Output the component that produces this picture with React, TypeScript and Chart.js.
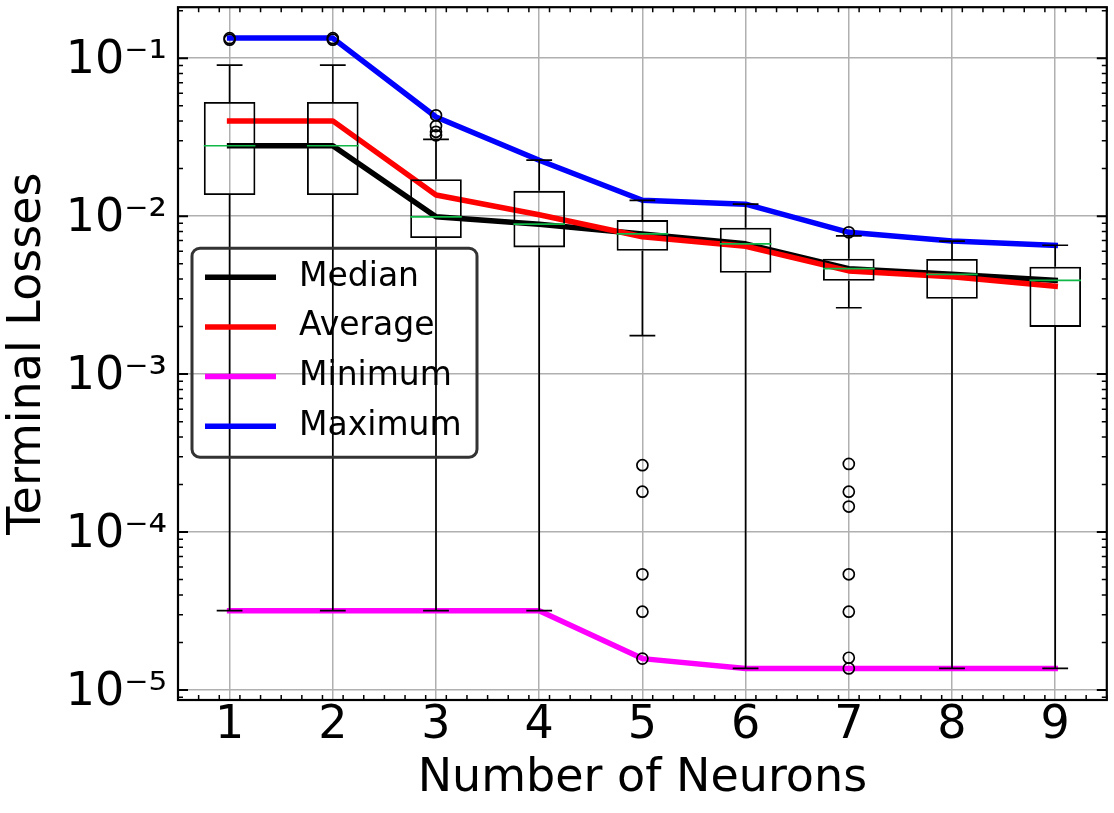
import React, { useEffect, useRef } from "react";
import { Chart, registerables } from "chart.js";

Chart.register(...registerables);

// ---------------- data ----------------
const neurons = [1, 2, 3, 4, 5, 6, 7, 8, 9];

const medianLoss = [0.0279, 0.0279, 0.0099, 0.0089, 0.00772, 0.00668, 0.00465, 0.00428, 0.00392];
const averageLoss = [0.0401, 0.0401, 0.0136, 0.0102, 0.0074, 0.00645, 0.0045, 0.00413, 0.0036];
const minimumLoss = [3.18e-5, 3.18e-5, 3.18e-5, 3.18e-5, 1.58e-5, 1.37e-5, 1.37e-5, 1.37e-5, 1.37e-5];
const maximumLoss = [0.134, 0.134, 0.0424, 0.0226, 0.0126, 0.0119, 0.0079, 0.00695, 0.00654];

const boxQ1 = [0.0136, 0.0136, 0.00726, 0.00634, 0.00603, 0.00438, 0.0039, 0.003, 0.00199];
const boxQ3 = [0.0528, 0.0528, 0.01714, 0.01446, 0.00944, 0.00844, 0.00537, 0.00535, 0.00478];
const whiskerLow = [3.18e-5, 3.18e-5, 3.18e-5, 3.18e-5, 0.00175, 1.37e-5, 0.00263, 1.37e-5, 1.37e-5];
const whiskerHigh = [0.0903, 0.0903, 0.0306, 0.0226, 0.0126, 0.0119, 0.0075, 0.00695, 0.00654];

const fliersBox1 = [0.134, 0.131];
const fliersBox2 = [0.134, 0.131];
const fliersBox3 = [0.0435, 0.0372, 0.0342, 0.0325];
const fliersBox5 = [2.65e-4, 1.8e-4, 5.4e-5, 3.13e-5, 1.58e-5];
const fliersBox7 = [0.0079, 2.7e-4, 1.8e-4, 1.45e-4, 5.4e-5, 3.13e-5, 1.6e-5, 1.37e-5];
const fliersByBox = [fliersBox1, fliersBox2, fliersBox3, [], fliersBox5, [], fliersBox7, [], []];

const yTickValues = [1e-5, 1e-4, 1e-3, 1e-2, 1e-1];
const yTickLabels = ["10\u207B\u2075", "10\u207B\u2074", "10\u207B\u00B3", "10\u207B\u00B2", "10\u207B\u00B9"];
const xTickValues = [1, 2, 3, 4, 5, 6, 7, 8, 9];
const xTickLabels = ["1", "2", "3", "4", "5", "6", "7", "8", "9"];

const seriesLabels = ["Median", "Average", "Minimum", "Maximum"];
const seriesColors = ["#000000", "#ff0000", "#ff00ff", "#0000ff"];

// ---------------- layout / style constants ----------------
const FONT = '"DejaVu Sans", "Liberation Sans", sans-serif';
const Y_MIN = 8.643e-6;
const Y_MAX = 0.2103;
const X_MIN = 0.5;
const X_MAX = 9.5;
const BOX_HALF = 0.25;
const CAP_HALF = 0.125;
const MEDIAN_GREEN = "#10b848";

const decorPlugin = {
  id: "decor",
  afterDraw(chart: any) {
    const { ctx, chartArea, scales } = chart;
    const { left, right, top, bottom } = chartArea;
    const x = scales.x;
    const y = scales.y;
    ctx.save();
    ctx.strokeStyle = "#000";

    const yTick = (v: number, len: number, w: number) => {
      const py = y.getPixelForValue(v);
      if (py < top - 0.5 || py > bottom + 0.5) return;
      ctx.lineWidth = w;
      ctx.beginPath();
      ctx.moveTo(left, py);
      ctx.lineTo(left + len, py);
      ctx.moveTo(right, py);
      ctx.lineTo(right - len, py);
      ctx.stroke();
    };
    const xTick = (v: number, len: number, w: number) => {
      const px = x.getPixelForValue(v);
      if (px < left - 0.5 || px > right + 0.5) return;
      ctx.lineWidth = w;
      ctx.beginPath();
      ctx.moveTo(px, bottom);
      ctx.lineTo(px, bottom - len);
      ctx.moveTo(px, top);
      ctx.lineTo(px, top + len);
      ctx.stroke();
    };

    for (let e = -6; e <= 0; e++) {
      for (let k = 1; k <= 9; k++) {
        const v = k * Math.pow(10, e);
        if (k === 1) yTick(v, 10, 2);
        else yTick(v, 5, 1.5);
      }
    }
    for (let i = 0; i <= 50; i++) {
      const v = Math.round((X_MIN + i * 0.2) * 10) / 10;
      if (v > X_MAX) break;
      if (Math.abs(v - Math.round(v)) < 1e-6) xTick(v, 10, 2);
      else xTick(v, 5, 1.5);
    }

    // frame
    ctx.lineWidth = 2.2;
    ctx.strokeRect(left, top, right - left, bottom - top);

    // legend
    const lx = left + 14;
    const ly = top + 241;
    const lw = 285;
    const lh = 209;
    const r = 8;
    ctx.lineWidth = 3;
    ctx.strokeStyle = "#333333";
    ctx.beginPath();
    ctx.moveTo(lx + r, ly);
    ctx.lineTo(lx + lw - r, ly);
    ctx.arcTo(lx + lw, ly, lx + lw, ly + r, r);
    ctx.lineTo(lx + lw, ly + lh - r);
    ctx.arcTo(lx + lw, ly + lh, lx + lw - r, ly + lh, r);
    ctx.lineTo(lx + r, ly + lh);
    ctx.arcTo(lx, ly + lh, lx, ly + lh - r, r);
    ctx.lineTo(lx, ly + r);
    ctx.arcTo(lx, ly, lx + r, ly, r);
    ctx.closePath();
    ctx.stroke();

    ctx.font = `33px ${FONT}`;
    ctx.textBaseline = "middle";
    ctx.textAlign = "left";
    seriesLabels.forEach((lab, i) => {
      const ry = top + 270 + i * 49.7;
      ctx.strokeStyle = seriesColors[i];
      ctx.lineWidth = 5.5;
      ctx.lineCap = "butt";
      ctx.beginPath();
      ctx.moveTo(left + 27, ry);
      ctx.lineTo(left + 98, ry);
      ctx.stroke();
      ctx.fillStyle = "#000";
      ctx.fillText(lab, left + 121, ry);
    });
    ctx.restore();
  },
};

export default function App() {
  const ref = useRef<HTMLCanvasElement | null>(null);

  useEffect(() => {
    const canvas = ref.current;
    if (!canvas) return;
    document.body.style.margin = "0";

    const pts = (vals: number[]) => neurons.map((n, i) => ({ x: n, y: vals[i] }));

    const whiskerData: any[] = [];
    const capData: any[] = [];
    const medianSegData: any[] = [];
    neurons.forEach((n, i) => {
      whiskerData.push({ x: n, y: whiskerLow[i] }, { x: n, y: boxQ1[i] }, { x: n, y: null });
      whiskerData.push({ x: n, y: boxQ3[i] }, { x: n, y: whiskerHigh[i] }, { x: n, y: null });
      capData.push({ x: n - CAP_HALF, y: whiskerLow[i] }, { x: n + CAP_HALF, y: whiskerLow[i] }, { x: n, y: null });
      capData.push({ x: n - CAP_HALF, y: whiskerHigh[i] }, { x: n + CAP_HALF, y: whiskerHigh[i] }, { x: n, y: null });
      medianSegData.push({ x: n - BOX_HALF, y: medianLoss[i] }, { x: n + BOX_HALF, y: medianLoss[i] }, { x: n, y: null });
    });
    const flierData: any[] = [];
    fliersByBox.forEach((arr, i) => arr.forEach((v) => flierData.push({ x: neurons[i], y: v })));

    const seriesValues = [medianLoss, averageLoss, minimumLoss, maximumLoss];
    const lineSets = seriesLabels.map((lab, i) => ({
      type: "line",
      label: lab,
      data: pts(seriesValues[i]),
      borderColor: seriesColors[i],
      backgroundColor: seriesColors[i],
      borderWidth: 5.5,
      pointRadius: 0,
      tension: 0,
      borderCapStyle: "square",
      borderJoinStyle: "round",
      order: 4 - i,
    }));

    const segStyle = {
      type: "line",
      pointRadius: 0,
      tension: 0,
      spanGaps: false,
      borderCapStyle: "butt",
      fill: false,
    };

    const chart = new Chart(canvas, {
      type: "line",
      data: {
        datasets: [
          ...lineSets,
          {
            type: "bar",
            label: "box",
            data: neurons.map((n, i) => ({ x: n, y: [boxQ1[i], boxQ3[i]] })),
            backgroundColor: "rgba(0,0,0,0)",
            borderColor: "#000",
            borderWidth: 1.8,
            borderSkipped: false,
            categoryPercentage: 1,
            barPercentage: 0.5,
            grouped: false,
            order: 0,
          },
          { ...segStyle, label: "whiskers", data: whiskerData, borderColor: "#000", borderWidth: 1.7, order: -1 },
          { ...segStyle, label: "caps", data: capData, borderColor: "#000", borderWidth: 1.7, order: -2 },
          { ...segStyle, label: "medians", data: medianSegData, borderColor: MEDIAN_GREEN, borderWidth: 1.7, order: -4 },
          {
            type: "scatter",
            label: "fliers",
            data: flierData,
            pointStyle: "circle",
            pointRadius: 5.5,
            borderColor: "#000",
            backgroundColor: "rgba(0,0,0,0)",
            borderWidth: 1.7,
            showLine: false,
            order: -3,
          },
        ] as any,
      },
      options: {
        responsive: false,
        animation: false,
        devicePixelRatio: 1,
        events: [],
        layout: { padding: { top: 7, right: 7, left: 0, bottom: 0 } },
        plugins: { legend: { display: false }, tooltip: { enabled: false } },
        scales: {
          x: {
            type: "linear",
            min: X_MIN,
            max: X_MAX,
            offset: false,
            border: { display: false },
            grid: { color: "#b0b0b0", lineWidth: 1.5, drawTicks: false, offset: false },
            afterBuildTicks: (s: any) => {
              s.ticks = xTickValues.map((v) => ({ value: v }));
            },
            afterFit: (s: any) => {
              s.height = 113;
              s.paddingLeft = 0;
              s.paddingRight = 0;
            },
            ticks: {
              autoSkip: false,
              maxRotation: 0,
              padding: 0,
              color: "#000",
              font: { family: FONT, size: 46, lineHeight: 1.12 },
              callback: (v: any) => {
                const i = xTickValues.indexOf(Number(v));
                return i >= 0 ? xTickLabels[i] : "";
              },
            },
            title: {
              display: true,
              text: "Number of Neurons",
              color: "#000",
              font: { family: FONT, size: 46 },
              padding: { top: 0, bottom: 6 },
            },
          },
          y: {
            type: "logarithmic",
            min: Y_MIN,
            max: Y_MAX,
            border: { display: false },
            grid: { color: "#b0b0b0", lineWidth: 1.5, drawTicks: false },
            afterBuildTicks: (s: any) => {
              s.ticks = yTickValues.map((v) => ({ value: v, major: true }));
            },
            afterFit: (s: any) => {
              s.width = 178;
              s.paddingTop = 0;
              s.paddingBottom = 0;
            },
            ticks: {
              autoSkip: false,
              padding: 11,
              labelOffset: 3,
              color: "#000",
              font: { family: FONT, size: 46 },
              callback: (v: any) => {
                const i = yTickValues.findIndex((t) => Math.abs(Math.log10(t) - Math.log10(Number(v))) < 1e-6);
                return i >= 0 ? yTickLabels[i] : "";
              },
            },
            title: {
              display: true,
              text: "Terminal Losses",
              color: "#000",
              font: { family: FONT, size: 46 },
              padding: { top: 0, bottom: 0 },
            },
          },
        },
      } as any,
      plugins: [decorPlugin],
    });

    return () => chart.destroy();
  }, []);

  return (
    <div style={{ position: "absolute", left: 0, top: 0, width: 1114, height: 813, background: "#fff" }}>
      <canvas ref={ref} width={1114} height={813} style={{ display: "block" }} />
    </div>
  );
}
